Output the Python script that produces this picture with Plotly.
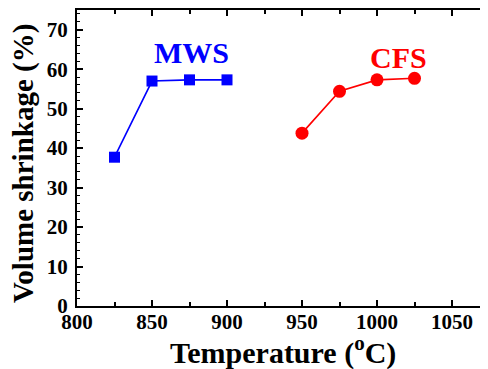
import plotly.graph_objects as go

mws_temp = [825, 850, 875, 900]
mws_shrink = [37.7, 57.0, 57.3, 57.3]
cfs_temp = [950, 975, 1000, 1025]
cfs_shrink = [43.8, 54.4, 57.3, 57.7]

FONT = "Liberation Serif"

fig = go.Figure()
fig.add_trace(go.Scatter(x=mws_temp, y=mws_shrink, mode="lines+markers",
                         line=dict(color="#0000FF", width=1.6),
                         marker=dict(symbol="square", size=11, color="#0000FF"),
                         showlegend=False))
fig.add_trace(go.Scatter(x=cfs_temp, y=cfs_shrink, mode="lines+markers",
                         line=dict(color="#FF0000", width=1.6),
                         marker=dict(symbol="circle", size=13, color="#FF0000"),
                         showlegend=False))

fig.add_annotation(x=876.5, y=64.3, text="MWS", showarrow=False,
                   font=dict(family=FONT, size=30, color="#0000FF", weight="bold"))
fig.add_annotation(x=1014, y=63.0, text="CFS", showarrow=False,
                   font=dict(family=FONT, size=30, color="#FF0000", weight="bold"))

# axis titles as paper-anchored annotations
fig.add_annotation(xref="paper", yref="paper", x=0, y=0.48, xshift=-53,
                   text="Volume shrinkage (%)", textangle=-90, showarrow=False,
                   xanchor="center", yanchor="middle", borderpad=0,
                   font=dict(family=FONT, size=29, color="black", weight="bold"))
fig.add_annotation(xref="paper", yref="paper", x=0.5, y=0, yshift=-44,
                   text="Temperature (<sup>o</sup>C)", showarrow=False,
                   xanchor="center", yanchor="middle",
                   font=dict(family=FONT, size=30, color="black", weight="bold"))

fig.update_layout(
    width=480, height=361,
    margin=dict(l=69, r=0, t=0, b=63),
    plot_bgcolor="white", paper_bgcolor="white",
    font=dict(family=FONT, color="black"),
    xaxis=dict(range=[800, 1074], dtick=50, tick0=800,
               showgrid=False, zeroline=False,
               showline=True, linewidth=2, linecolor="black", mirror="ticks",
               ticks="inside", ticklen=6, tickwidth=1.5, tickcolor="black",
               minor=dict(dtick=25, ticks="inside", ticklen=4, tickwidth=1.5, tickcolor="black"),
               ticklabelstandoff=-4,
               tickfont=dict(family=FONT, size=21, color="black", weight="bold")),
    yaxis=dict(range=[0, 75], dtick=10, tick0=0,
               showgrid=False, zeroline=False,
               showline=True, linewidth=2, linecolor="black",
               ticks="inside", ticklen=6, tickwidth=1.5, tickcolor="black",
               minor=dict(dtick=2, ticks="inside", ticklen=3, tickwidth=1.2, tickcolor="black"),
               ticklabelstandoff=3,
               tickfont=dict(family=FONT, size=21, color="black", weight="bold")),
)

fig.write_html("out.html")
